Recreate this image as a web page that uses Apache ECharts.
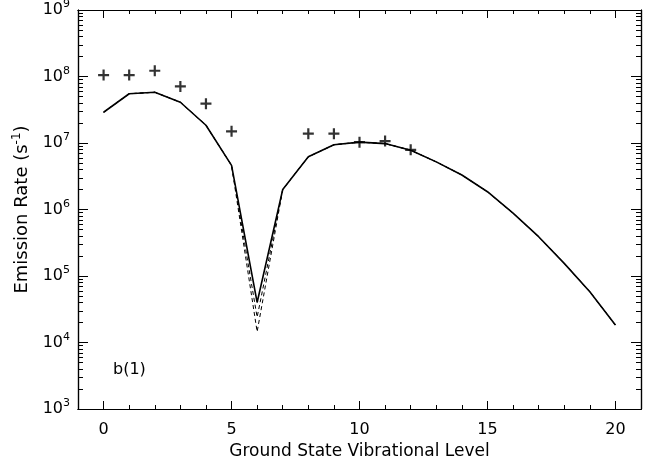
<!DOCTYPE html>
<html>
<head>
<meta charset="utf-8">
<script src="https://cdn.jsdelivr.net/npm/echarts@6/dist/echarts.min.js"></script>
<style>html,body{margin:0;padding:0;background:#fff;}#c{width:662px;height:461px;}</style>
</head>
<body>
<div id="c"></div>
<script>
// ---- data ----
const levels = [0,1,2,3,4,5,6,7,8,9,10,11,12,13,14,15,16,17,18,19,20];
const solidRates = [2.9e7,5.5e7,5.8e7,4.1e7,1.85e7,4.6e6,4.0e4,2.0e6,6.2e6,9.4e6,1.03e7,9.8e6,7.8e6,5.2e6,3.3e6,1.85e6,8.8e5,3.9e5,1.55e5,5.8e4,1.83e4];
const dashedRatesA = [2.9e7,5.5e7,5.8e7,4.1e7,1.85e7,4.6e6,2.4e4,2.0e6,6.2e6,9.4e6,1.03e7,9.8e6,7.8e6,5.2e6,3.3e6,1.85e6,8.8e5,3.9e5,1.55e5,5.8e4,1.83e4];
const dashedRatesB = [2.9e7,5.5e7,5.8e7,4.1e7,1.85e7,4.6e6,1.45e4,2.0e6,6.2e6,9.4e6,1.03e7,9.8e6,7.8e6,5.2e6,3.3e6,1.85e6,8.8e5,3.9e5,1.55e5,5.8e4,1.83e4];
const obsLevels = [0,1,2,3,4,5,8,9,10,11,12];
const obsRates = [1.05e8,1.05e8,1.22e8,7.1e7,3.9e7,1.5e7,1.38e7,1.38e7,1.03e7,1.07e7,7.9e6];
const xMajorTicks = [0,5,10,15,20];
const xMinorTicks = [0,1,2,3,4,5,6,7,8,9,10,11,12,13,14,15,16,17,18,19,20];
const yMajorTicks = [1e3,1e4,1e5,1e6,1e7,1e8,1e9];
const yMinorTicks = [];
for (let e = 3; e < 9; e++) for (let m = 2; m <= 9; m++) yMinorTicks.push(m * Math.pow(10, e));

const FONT = 'DejaVu Sans';
const pair = (xs, ys) => xs.map((x, i) => [x, ys[i]]);
const plusPath = 'path://M4,0h2v4h4v2h-4v4h-2v-4h-4v-2h4z';

function xAx(pos, ticks, len, labels) {
  return {
    type: 'value', position: pos, min: -1, max: 21,
    axisLine: { show: true, onZero: false, lineStyle: { color: '#000', width: 1.2 } },
    axisTick: { show: true, inside: true, length: len, customValues: ticks, lineStyle: { color: '#000', width: 1 } },
    axisLabel: labels ? { show: true, customValues: ticks, margin: 13, color: '#000', fontFamily: FONT, fontSize: 16 } : { show: false },
    splitLine: { show: false }
  };
}
function yAx(pos, ticks, len, labels) {
  return {
    type: 'log', logBase: 10, position: pos, min: 1e3, max: 1e9,
    axisLine: { show: true, onZero: false, lineStyle: { color: '#000', width: 1.2 } },
    axisTick: { show: true, inside: true, length: len, customValues: ticks, lineStyle: { color: '#000', width: 1 } },
    axisLabel: labels ? {
      show: true, customValues: ticks, margin: 8, color: '#000', fontFamily: FONT,
      formatter: v => '{b|10}{s|' + Math.round(Math.log10(v)) + '}',
      rich: {
        b: { fontSize: 16, fontFamily: FONT, color: '#000', lineHeight: 22 },
        s: { fontSize: 11, fontFamily: FONT, color: '#000', verticalAlign: 'top', lineHeight: 14 }
      }
    } : { show: false },
    splitLine: { show: false }
  };
}

const xa0 = xAx('bottom', xMajorTicks, 8, true);
xa0.name = 'Ground State Vibrational Level';
xa0.nameLocation = 'middle';
xa0.nameGap = 26;
xa0.nameTextStyle = { fontFamily: FONT, fontSize: 17, color: '#000' };

const ya0 = yAx('left', yMajorTicks, 10, true);
ya0.name = '{a|Emission Rate (s}{s|-1}{a|)}';
ya0.nameLocation = 'middle';
ya0.nameGap = 45;
ya0.nameRotate = 90;
ya0.nameTextStyle = {
  rich: {
    a: { fontFamily: FONT, fontSize: 18, color: '#000', lineHeight: 22 },
    s: { fontFamily: FONT, fontSize: 12, color: '#000', verticalAlign: 'top', lineHeight: 14 }
  }
};

const option = {
  animation: false,
  backgroundColor: '#fff',
  grid: { left: 78, right: 21, top: 10, bottom: 52, containLabel: false, outerBoundsMode: 'none' },
  xAxis: [
    xa0,
    xAx('bottom', xMinorTicks, 4, false),
    xAx('top', xMajorTicks, 8, false),
    xAx('top', xMinorTicks, 4, false)
  ],
  yAxis: [
    ya0,
    yAx('left', yMinorTicks, 5, false),
    yAx('right', yMajorTicks, 10, false),
    yAx('right', yMinorTicks, 5, false)
  ],
  graphic: [{
    type: 'text', left: 113, top: 362,
    style: { text: 'b(1)', fontFamily: FONT, fontSize: 16, fill: '#000' }
  }],
  series: [
    { type: 'line', data: pair(levels, dashedRatesB), showSymbol: false, symbol: 'none',
      lineStyle: { color: '#000', width: 1, type: [4, 3] }, z: 2 },
    { type: 'line', data: pair(levels, dashedRatesA), showSymbol: false, symbol: 'none',
      lineStyle: { color: '#000', width: 1, type: [4, 3] }, z: 2 },
    { type: 'line', data: pair(levels, solidRates), showSymbol: false, symbol: 'none',
      lineStyle: { color: '#000', width: 1.6 }, z: 3 },
    { type: 'scatter', data: pair(obsLevels, obsRates), symbol: plusPath, symbolSize: 11,
      itemStyle: { color: '#000' }, z: 4 }
  ]
};
echarts.init(document.getElementById('c')).setOption(option);
</script>
</body>
</html>
